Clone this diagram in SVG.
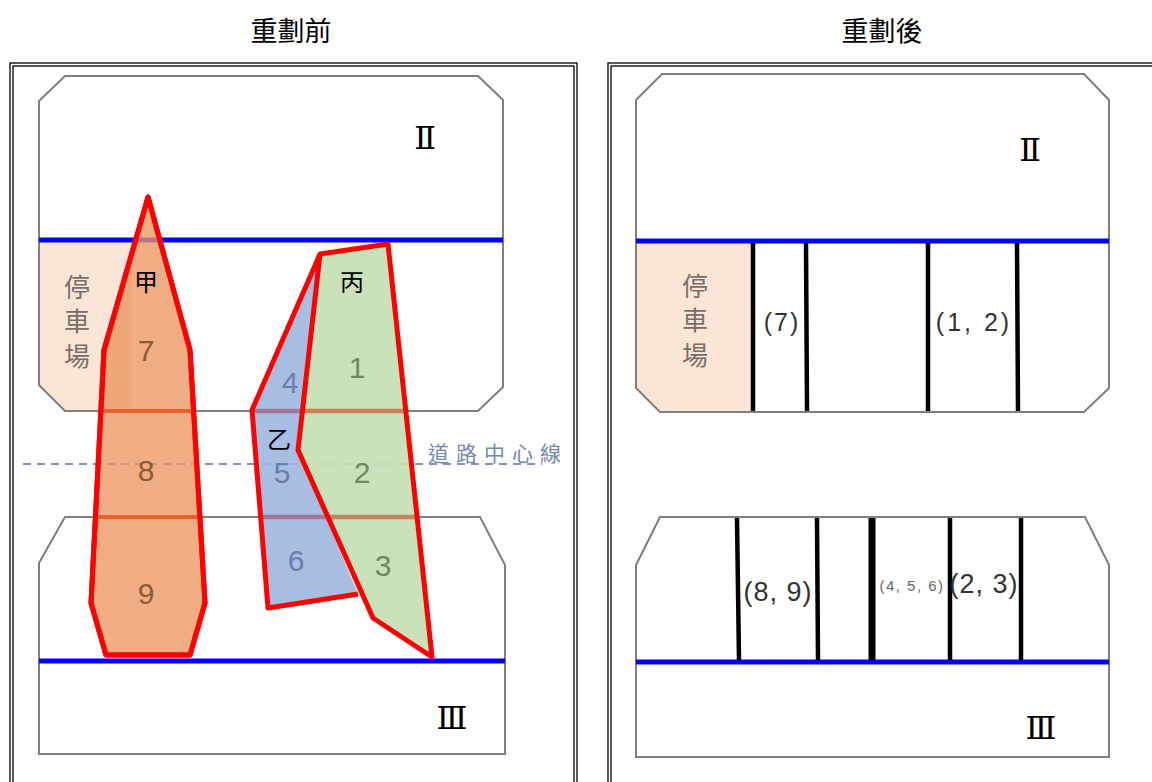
<svg xmlns="http://www.w3.org/2000/svg" width="1152" height="782" viewBox="0 0 1152 782">
<style>
.frame{fill:none;stroke:#000;stroke-width:1.3}
.blk{fill:none;stroke:#7f7f7f;stroke-width:2}
.road{stroke:#0000ff;stroke-width:5}
.park{fill:#fbe5d6;stroke:none}
.poly{stroke:#ff0000;stroke-width:5;stroke-linejoin:round}
.div{stroke:#000;stroke-width:4.5}
.title{font-family:"Noto Sans CJK TC",sans-serif;font-size:27px;fill:#000;text-anchor:middle}
.roman{font-family:"DejaVu Serif","Liberation Serif","Noto Sans CJK TC",serif;font-size:32px;fill:#000;text-anchor:middle}
.num{font-family:"Liberation Sans",Arial,sans-serif;font-size:30px;text-anchor:middle}
.pk{font-family:"Noto Sans CJK TC",sans-serif;font-size:26px;fill:#7a6e68;text-anchor:middle}
.lab{font-family:"Noto Sans CJK TC",sans-serif;font-size:24px;fill:#000;text-anchor:middle}
.par{font-family:"Liberation Sans",Arial,sans-serif;fill:#333;text-anchor:middle}
</style>

<g id="titles">
<text class="title" x="291" y="41">重劃前</text>
<text class="title" x="882" y="41">重劃後</text>
</g>

<g id="frames">
<rect class="frame" x="10" y="63" width="567" height="730"/>
<rect class="frame" x="13" y="66" width="561" height="724"/>
<rect class="frame" x="608" y="63" width="560" height="730"/>
<rect class="frame" x="611" y="66" width="554" height="724"/>
</g>

<!-- BEFORE -->
<g id="before-blocks">
<polygon class="park" points="40,242 132,242 132,410 65,410 40,385"/>
<polygon class="blk" points="39,101 65,76 478,76 503,100 503,387 478,411 65,411 39,385"/>
<polygon class="blk" points="39,563 65,517 480,517 505,565 505,754 39,754"/>
<line class="road" x1="39" y1="240" x2="503" y2="240"/>
<line class="road" x1="39" y1="661" x2="505" y2="661"/>
<line x1="23" y1="464" x2="542" y2="464" stroke="#7f93bd" stroke-width="2" stroke-dasharray="8,6"/>
<text class="roman" x="425" y="149">Ⅱ</text>
<text class="roman" x="452" y="729">Ⅲ</text>
<text class="pk" x="77" y="297">停</text>
<text class="pk" x="77" y="331">車</text>
<text class="pk" x="77" y="366">場</text>
<text x="428" y="461" font-family="Noto Sans CJK TC, sans-serif" font-size="21" fill="#7488b6" letter-spacing="7">道路中心線</text>
</g>

<g id="parcel-jia">
<polygon class="poly" fill="#ec9660" fill-opacity="0.78" points="148,197 190,350 205,603 190,655 106,655 91,603 104,350"/>
<line x1="101" y1="411" x2="194" y2="411" stroke="#e8602a" stroke-width="4"/>
<line x1="95" y1="517" x2="200" y2="517" stroke="#e8602a" stroke-width="4"/>
<polygon class="poly" fill="none" points="148,197 190,350 205,603 190,655 106,655 91,603 104,350"/>
<text class="lab" x="146" y="291">甲</text>
<text class="num" x="146" y="361" fill="#8e5a36">7</text>
<text class="num" x="146" y="481" fill="#8e5a36">8</text>
<text class="num" x="146" y="604" fill="#8e5a36">9</text>
</g>

<g id="parcel-yi">
<polygon fill="#9fb6df" fill-opacity="0.9" stroke="none" points="320,254 252,410 268,608 358,594 298,450"/>
<line x1="253" y1="411" x2="302" y2="411" stroke="#a07898" stroke-width="4.5"/>
<line x1="261" y1="517" x2="328" y2="517" stroke="#a07898" stroke-width="4.5"/>
<text class="lab" x="279" y="448">乙</text>
<text class="num" x="290" y="393" fill="#6b7fa8">4</text>
<text class="num" x="282" y="483" fill="#6b7fa8">5</text>
<text class="num" x="296" y="571" fill="#6b7fa8">6</text>
</g>

<g id="parcel-bing">
<polygon fill="#c5e0b3" fill-opacity="0.92" stroke="none" points="320,254 388,244 432,657 373,618 298,450"/>
<line x1="302" y1="411" x2="405" y2="411" stroke="#c9835c" stroke-width="4.5"/>
<line x1="328" y1="517" x2="417" y2="517" stroke="#c9835c" stroke-width="4.5"/>
<polygon class="poly" fill="none" points="320,254 388,244 432,657 373,618 298,450"/>
<polyline class="poly" fill="none" points="320,254 252,410 268,608 358,594"/>
<text class="lab" x="352" y="291">丙</text>
<text class="num" x="357" y="378" fill="#6d8c5c">1</text>
<text class="num" x="362" y="483" fill="#6d8c5c">2</text>
<text class="num" x="383" y="576" fill="#6d8c5c">3</text>
</g>

<!-- AFTER -->
<g id="after-upper">
<polygon class="park" points="637,243 752,243 752,411 660,411 637,388"/>
<polygon class="blk" points="636,100 662,74 1084,74 1109,100 1109,388 1084,412 660,412 636,388"/>
<line class="road" x1="636" y1="241" x2="1109" y2="241"/>
<text class="roman" x="1030" y="161">Ⅱ</text>
<text class="pk" x="695" y="296">停</text>
<text class="pk" x="695" y="330">車</text>
<text class="pk" x="695" y="365">場</text>
</g>

<g id="after-lower">
<polygon class="blk" points="636,565 660,517 1085,517 1109,565 1109,757 636,757"/>
<line class="road" x1="636" y1="662" x2="1109" y2="662"/>
<text class="roman" x="1041" y="739">Ⅲ</text>
</g>

<g id="connectors">
<line class="div" x1="753" y1="243" x2="753" y2="411"/>
<line class="div" x1="806" y1="243" x2="807" y2="411"/>
<line class="div" x1="928" y1="243" x2="928" y2="411"/>
<line class="div" x1="1017" y1="243" x2="1018" y2="411"/>
<line class="div" x1="737" y1="518" x2="739" y2="660"/>
<line class="div" x1="817" y1="518" x2="818" y2="660"/>
<line class="div" x1="872" y1="518" x2="872" y2="660" style="stroke-width:7"/>
<line class="div" x1="950" y1="518" x2="950" y2="660"/>
<line class="div" x1="1021" y1="518" x2="1021" y2="660"/>
</g>

<g id="after-labels">
<text class="par" x="782" y="331" style="font-size:25px;letter-spacing:2px">(7)</text>
<text class="par" x="974" y="331" style="font-size:25px;letter-spacing:3px">(1, 2)</text>
<text class="par" x="778" y="601" style="font-size:27px;letter-spacing:1px">(8, 9)</text>
<text class="par" x="912" y="591" style="font-size:15px;letter-spacing:1.5px;fill:#666">(4, 5, 6)</text>
<text class="par" x="984" y="593" style="font-size:27px;letter-spacing:1px">(2, 3)</text>
</g>
</svg>
